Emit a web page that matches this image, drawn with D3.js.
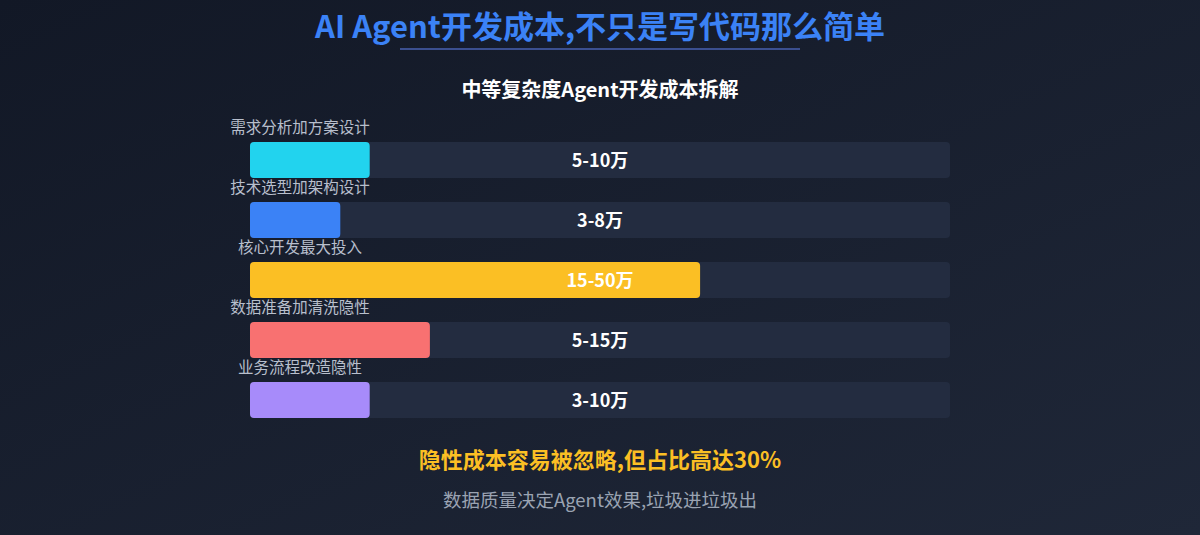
<!DOCTYPE html>
<html><head><meta charset="utf-8">
<script src="https://cdn.jsdelivr.net/npm/d3@7"></script>
<style>body{margin:0;background:#161d2b}</style></head>
<body><svg id="c" width="1200" height="535"></svg>
<script>
const categories=["需求分析加方案设计","技术选型加架构设计","核心开发最大投入","数据准备加清洗隐性","业务流程改造隐性"];
const valueLabels=["5-10万","3-8万","15-50万","5-15万","3-10万"];
const shares=[17.1,12.9,64.3,25.7,17.1];
const colors=["#22d3ee","#3b82f6","#fbbf24","#f87171","#a78bfa"];
const F="'Noto Sans CJK SC','Noto Sans',sans-serif";
const svg=d3.select("#c");
const defs=svg.append("defs");
const g=defs.append("linearGradient").attr("id","bg").attr("x1",0).attr("y1",0).attr("x2",1).attr("y2",1);
g.append("stop").attr("offset","0%").attr("stop-color","#121826");
g.append("stop").attr("offset","100%").attr("stop-color","#1f2738");
svg.append("rect").attr("width",1200).attr("height",535).attr("fill","url(#bg)");
svg.append("text").attr("x",600).attr("y",38).attr("text-anchor","middle").attr("font-family",F).attr("font-weight",700).attr("font-size",31).attr("fill","#3b82f6").text("AI Agent开发成本,不只是写代码那么简单");
svg.append("line").attr("x1",400).attr("x2",800).attr("y1",49).attr("y2",49).attr("stroke","#3b4f8f").attr("stroke-width",2);
svg.append("text").attr("x",600).attr("y",97).attr("text-anchor","middle").attr("font-family",F).attr("font-weight",700).attr("font-size",20).attr("fill","#fff").text("中等复杂度Agent开发成本拆解");
const x=d3.scaleLinear().domain([0,100]).range([250,950]);
const y=d3.scaleBand().domain(categories).range([142,418]).paddingInner(0.4);
const rows=svg.selectAll("g.r").data(categories).join("g");
rows.append("rect").attr("x",x(0)).attr("y",d=>y(d)).attr("width",x(100)-x(0)).attr("height",y.bandwidth()).attr("rx",4).attr("fill","#232c40");
rows.append("rect").attr("x",x(0)).attr("y",d=>y(d)).attr("width",(d,i)=>x(shares[i])-x(0)).attr("height",y.bandwidth()).attr("rx",4).attr("fill",(d,i)=>colors[i]);
rows.append("text").attr("x",300).attr("y",d=>y(d)-9).attr("text-anchor","middle").attr("font-family",F).attr("font-size",15.5).attr("fill","#b8bfcc").text(d=>d);
rows.append("text").attr("x",600).attr("y",d=>y(d)+25).attr("text-anchor","middle").attr("font-family",F).attr("font-weight",700).attr("font-size",18).attr("fill","#fff").text((d,i)=>valueLabels[i]);
svg.append("text").attr("x",600).attr("y",468).attr("text-anchor","middle").attr("font-family",F).attr("font-weight",700).attr("font-size",22).attr("fill","#fbbf24").text("隐性成本容易被忽略,但占比高达30%");
svg.append("text").attr("x",600).attr("y",507).attr("text-anchor","middle").attr("font-family",F).attr("font-size",18.5).attr("fill","#9aa3b2").text("数据质量决定Agent效果,垃圾进垃圾出");
</script></body></html>
